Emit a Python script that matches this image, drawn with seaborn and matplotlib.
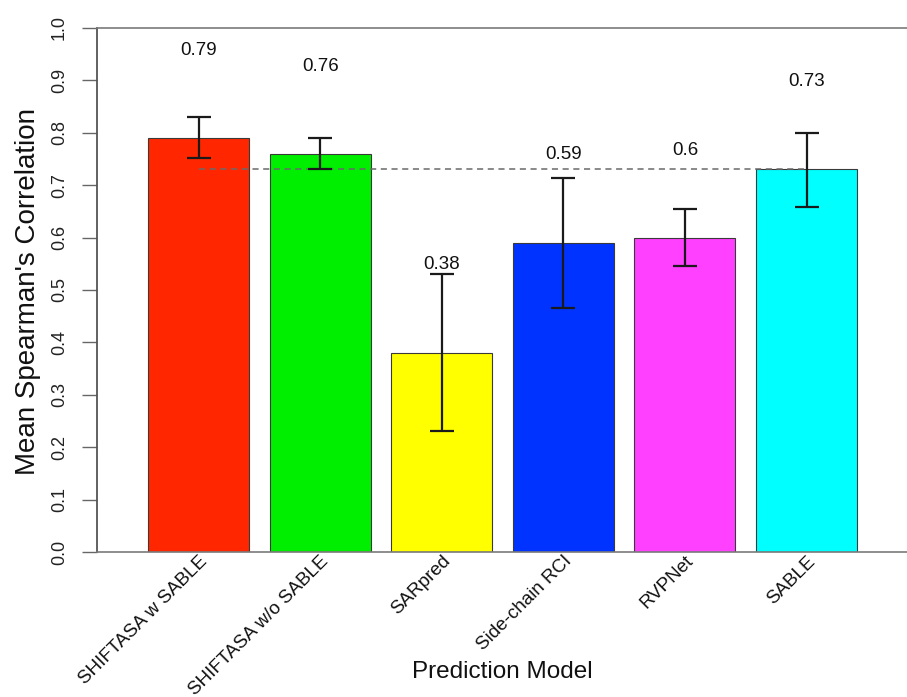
import matplotlib
matplotlib.use("Agg")
import matplotlib.pyplot as plt
import seaborn as sns
import numpy as np

models = ["SHIFTASA w SABLE", "SHIFTASA w/o SABLE", "SARpred",
          "Side-chain RCI", "RVPNet", "SABLE"]
values = np.array([0.79, 0.76, 0.38, 0.59, 0.60, 0.73])
lower = np.array([0.751, 0.731, 0.230, 0.466, 0.546, 0.659])
upper = np.array([0.830, 0.790, 0.531, 0.714, 0.655, 0.800])
value_labels = ["0.79", "0.76", "0.38", "0.59", "0.6", "0.73"]
label_y = [0.958, 0.926, 0.548, 0.758, 0.767, 0.897]
colors = ["#FF2600", "#00EE00", "#FFFF00", "#0033FF", "#FF40FF", "#00FFFF"]
yticks = [0.0, 0.1, 0.2, 0.3, 0.4, 0.5, 0.6, 0.7, 0.8, 0.9, 1.0]

sns.set_style("white")
plt.rcParams["font.family"] = ["Liberation Sans", "DejaVu Sans"]

fig = plt.figure(figsize=(9.07, 6.97), dpi=100)
ax = fig.add_axes([97/907, 145/697, 810/907, 524/697])

sns.barplot(x=models, y=values, hue=models, palette=colors, legend=False,
            width=0.83, edgecolor="#3a3a3a", linewidth=0.8, errorbar=None,
            saturation=1, ax=ax, zorder=2)

xs = np.arange(len(models))
ax.plot([xs[0], xs[-1]], [values[-1], values[-1]], ls=(0, (4, 3)),
        color="#6a6a6a", lw=1.1, zorder=3)
ax.errorbar(xs, values, yerr=[values - lower, upper - values], fmt="none",
            ecolor="#1a1a1a", elinewidth=1.6, capsize=8.3, capthick=1.6,
            zorder=4)
for x, ly, t in zip(xs, label_y, value_labels):
    ax.text(x, ly, t, ha="center", va="center", fontsize=13.5, color="#111111",
            zorder=5)

ax.set_xlim(-0.835, 5.826)
ax.set_ylim(0, 1.0)
ax.set_yticks(yticks)
ax.set_yticklabels([f"{v:.1f}" for v in yticks])
ax.tick_params(axis="y", left=True, length=10.8, width=1.0, color="#666666",
               pad=10, labelsize=13, labelrotation=90, labelcolor="#222222")
for lab in ax.get_yticklabels():
    lab.set_va("center")
ax.tick_params(axis="x", bottom=False, length=0, pad=0.5, labelsize=13.5,
               labelcolor="#111111")
for lab in ax.get_xticklabels():
    lab.set_rotation(45)
    lab.set_ha("right")
    lab.set_va("top")
    lab.set_rotation_mode("anchor")

for side in ["top", "bottom"]:
    ax.spines[side].set_color("#7a7a7a")
    ax.spines[side].set_linewidth(1.2)
ax.spines["left"].set_color("#555555")
ax.spines["left"].set_linewidth(1.3)
ax.spines["right"].set_visible(False)

ax.set_xlabel("Prediction Model", fontsize=17.5, color="#111111")
ax.xaxis.set_label_coords(0.5, (552 - 672) / 524)
ax.xaxis.label.set_va("center")
ax.set_ylabel("Mean Spearman's Correlation", fontsize=20, color="#111111")
ax.yaxis.set_label_coords((28 - 97) / 810, 0.498)
ax.yaxis.label.set_va("center")

fig.savefig("out.png", dpi=100)
